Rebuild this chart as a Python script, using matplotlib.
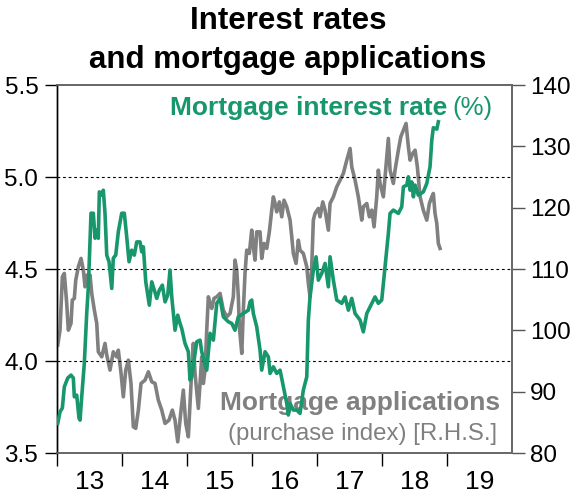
import matplotlib.pyplot as plt

GREEN = "#17976b"
GREY = "#808080"

# Mortgage interest rate, % (left axis)
rate_years = [
    2013.011, 2013.046, 2013.082, 2013.112, 2013.165, 2013.215, 2013.251, 2013.266, 2013.303, 2013.338,
    2013.354, 2013.380, 2013.420, 2013.457, 2013.482, 2013.523, 2013.558, 2013.585, 2013.611, 2013.635,
    2013.651, 2013.688, 2013.712, 2013.738, 2013.765, 2013.800, 2013.842, 2013.866, 2013.903, 2013.943,
    2013.995, 2014.035, 2014.072, 2014.108, 2014.149, 2014.189, 2014.226, 2014.277, 2014.303, 2014.328,
    2014.365, 2014.420, 2014.457, 2014.497, 2014.534, 2014.574, 2014.620, 2014.662, 2014.703, 2014.738,
    2014.765, 2014.815, 2014.857, 2014.892, 2014.918, 2014.969, 2015.020, 2015.046, 2015.072, 2015.149,
    2015.200, 2015.226, 2015.303, 2015.354, 2015.405, 2015.457, 2015.508, 2015.558, 2015.635, 2015.688,
    2015.738, 2015.789, 2015.866, 2015.943, 2015.969, 2015.995, 2016.020, 2016.072, 2016.123, 2016.149,
    2016.200, 2016.251, 2016.277, 2016.328, 2016.380, 2016.431, 2016.482, 2016.534, 2016.558, 2016.585,
    2016.635, 2016.688, 2016.738, 2016.789, 2016.842, 2016.866, 2016.892, 2016.943, 2016.985, 2017.020,
    2017.072, 2017.123, 2017.174, 2017.200, 2017.251, 2017.303, 2017.380, 2017.431, 2017.482, 2017.534,
    2017.585, 2017.662, 2017.712, 2017.765, 2017.842, 2017.892, 2017.943, 2017.995, 2018.046, 2018.097,
    2018.123, 2018.174, 2018.251, 2018.303, 2018.328, 2018.380, 2018.405, 2018.431, 2018.457, 2018.482,
    2018.508, 2018.558, 2018.635, 2018.688, 2018.738, 2018.765, 2018.789, 2018.842, 2018.866,
]
rate_values = [
    3.661, 3.724, 3.745, 3.860, 3.908, 3.924, 3.908, 3.806, 3.815, 3.690,
    3.679, 3.806, 3.989, 4.261, 4.404, 4.804, 4.804, 4.668, 4.712, 4.668,
    4.920, 4.902, 4.929, 4.804, 4.576, 4.540, 4.395, 4.560, 4.576, 4.703,
    4.804, 4.804, 4.676, 4.540, 4.603, 4.576, 4.648, 4.648, 4.594, 4.621,
    4.431, 4.304, 4.431, 4.386, 4.341, 4.386, 4.413, 4.322, 4.359, 4.495,
    4.349, 4.168, 4.250, 4.205, 4.178, 4.096, 4.051, 3.897, 3.915, 4.105,
    4.114, 4.051, 3.951, 4.151, 4.114, 4.314, 4.341, 4.241, 4.214, 4.205,
    4.168, 4.241, 4.259, 4.277, 4.322, 4.332, 4.259, 4.186, 4.060, 3.951,
    4.051, 4.023, 3.933, 3.969, 3.933, 3.951, 3.860, 3.770, 3.707, 3.770,
    3.734, 3.734, 3.716, 3.842, 3.915, 4.223, 4.349, 4.495, 4.567, 4.440,
    4.477, 4.531, 4.404, 4.567, 4.440, 4.332, 4.314, 4.349, 4.277, 4.341,
    4.259, 4.223, 4.159, 4.259, 4.314, 4.349, 4.314, 4.332, 4.513, 4.694,
    4.803, 4.821, 4.803, 4.839, 4.947, 4.957, 5.002, 4.929, 4.974, 4.893,
    4.957, 4.902, 4.920, 4.966, 5.056, 5.201, 5.269, 5.261, 5.301,
]

# Mortgage applications, purchase index (right axis)
apps_years = [
    2013.011, 2013.046, 2013.082, 2013.112, 2013.149, 2013.174, 2013.215, 2013.235, 2013.266, 2013.288,
    2013.328, 2013.369, 2013.405, 2013.431, 2013.457, 2013.482, 2013.508, 2013.534, 2013.574, 2013.611,
    2013.635, 2013.688, 2013.738, 2013.765, 2013.815, 2013.866, 2013.918, 2013.943, 2013.985, 2014.020,
    2014.057, 2014.097, 2014.138, 2014.174, 2014.211, 2014.251, 2014.292, 2014.354, 2014.405, 2014.457,
    2014.508, 2014.558, 2014.611, 2014.662, 2014.723, 2014.774, 2014.815, 2014.857, 2014.908, 2014.943,
    2014.980, 2015.020, 2015.072, 2015.097, 2015.123, 2015.174, 2015.200, 2015.226, 2015.251, 2015.277,
    2015.303, 2015.328, 2015.354, 2015.380, 2015.415, 2015.457, 2015.508, 2015.558, 2015.611, 2015.662,
    2015.712, 2015.738, 2015.765, 2015.789, 2015.805, 2015.842, 2015.866, 2015.892, 2015.918, 2015.958,
    2015.995, 2016.020, 2016.046, 2016.072, 2016.123, 2016.149, 2016.185, 2016.226, 2016.266, 2016.303,
    2016.328, 2016.354, 2016.380, 2016.420, 2016.457, 2016.492, 2016.534, 2016.585, 2016.611, 2016.635,
    2016.677, 2016.712, 2016.738, 2016.789, 2016.842, 2016.866, 2016.892, 2016.918, 2016.943, 2016.969,
    2017.020, 2017.046, 2017.088, 2017.123, 2017.174, 2017.200, 2017.251, 2017.303, 2017.354, 2017.405,
    2017.457, 2017.508, 2017.534, 2017.585, 2017.635, 2017.688, 2017.712, 2017.765, 2017.805, 2017.842,
    2017.877, 2017.918, 2017.943, 2017.969, 2018.020, 2018.072, 2018.097, 2018.123, 2018.174, 2018.200,
    2018.251, 2018.288, 2018.328, 2018.369, 2018.405, 2018.431, 2018.472, 2018.508, 2018.543, 2018.585,
    2018.635, 2018.688, 2018.728, 2018.765, 2018.789, 2018.815, 2018.842, 2018.866, 2018.892,
]
apps_values = [
    97.61, 100.05, 108.75, 109.30, 104.41, 100.05, 101.15, 104.95, 105.22, 108.21,
    110.38, 111.75, 109.84, 107.12, 109.02, 107.12, 109.02, 106.04, 103.32, 101.15,
    96.52, 95.70, 97.89, 95.98, 93.53, 96.52, 95.70, 96.79, 93.00, 89.18,
    93.53, 95.16, 91.36, 84.29, 84.03, 87.01, 91.36, 91.90, 93.26, 91.63,
    91.36, 88.64, 87.01, 84.84, 85.38, 87.01, 85.38, 81.84, 87.01, 90.27,
    84.84, 82.66, 93.53, 97.89, 92.99, 87.29, 91.36, 95.70, 91.36, 93.53,
    100.05, 105.49, 104.41, 103.59, 105.22, 105.49, 106.04, 103.32, 102.22, 102.78,
    105.49, 111.47, 109.84, 105.49, 100.59, 96.26, 103.32, 109.30, 113.10, 112.56,
    116.36, 113.64, 111.47, 116.08, 116.08, 111.75, 114.19, 113.38, 116.08, 119.62,
    121.79, 120.71, 119.34, 120.97, 118.53, 121.25, 120.16, 117.99, 115.27, 112.56,
    110.93, 114.73, 113.10, 112.56, 110.38, 107.67, 105.49, 110.38, 117.99, 119.08,
    119.90, 118.53, 120.97, 119.62, 116.36, 120.71, 121.79, 123.42, 124.51, 125.61,
    127.77, 129.68, 126.68, 124.51, 121.79, 117.99, 120.16, 120.71, 118.53, 119.62,
    116.90, 121.79, 126.14, 123.97, 121.79, 128.31, 131.31, 126.14, 123.97, 126.14,
    129.40, 131.57, 132.67, 133.76, 129.94, 127.77, 128.87, 129.40, 126.68, 121.79,
    119.62, 117.99, 120.71, 121.79, 122.34, 119.08, 117.45, 114.19, 113.38,
]

year_starts = [2013, 2014, 2015, 2016, 2017, 2018, 2019]
year_labels = ["13", "14", "15", "16", "17", "18", "19"]
rate_ticks = [3.5, 4.0, 4.5, 5.0, 5.5]
rate_grid = [4.0, 4.5, 5.0]
apps_ticks = [80, 90, 100, 110, 120, 130, 140]

plt.rcParams["font.family"] = ["Liberation Sans", "DejaVu Sans"]

fig = plt.figure(figsize=(5.76, 5.04), dpi=100)
ax = fig.add_axes([0.099, 0.101, 0.790, 0.730])
ax2 = ax.twinx()
# green series sits above the grey one
ax.set_zorder(ax2.get_zorder() + 1)
ax.patch.set_visible(False)

ax2.plot(apps_years, apps_values, color=GREY, lw=2.6, zorder=3)
ax.plot(rate_years, rate_values, color=GREEN, lw=2.6, zorder=3)

for level in rate_grid:
    ax.axhline(level, color="black", lw=0.8, ls=(0, (2.5, 2.5)), zorder=1)

ax.set_xlim(2013, 2020)
ax.set_ylim(3.5, 5.5)
ax2.set_ylim(80, 140)

ax.set_xticks(year_starts)
ax.set_xticklabels([])
ax.set_xticks([y + 0.5 for y in year_starts], minor=True)
ax.set_xticklabels(year_labels, minor=True)
ax.tick_params(axis="x", which="major", direction="out", length=9, width=1, color="black")
ax.tick_params(axis="x", which="minor", length=0, pad=12, labelsize=19)

ax.set_yticks(rate_ticks)
ax.set_yticklabels([f"{v:.1f}" for v in rate_ticks])
ax.tick_params(axis="y", direction="out", length=9, width=1, color="black", pad=4.5,
               labelsize=17.5)

ax2.set_yticks(apps_ticks)
ax2.tick_params(axis="y", direction="out", length=9, width=1, color="#555555", pad=4,
                labelsize=17.5)

for a in (ax, ax2):
    for side in ("top", "bottom", "right"):
        a.spines[side].set_color("#666666")
        a.spines[side].set_linewidth(1.2)
    a.spines["left"].set_color("black")
    a.spines["left"].set_linewidth(1)

fig.text(0.5, 1 - 29 / 504, "Interest rates", ha="center", va="baseline",
         fontsize=22.5, fontweight="bold")
fig.text(0.5, 1 - 68 / 504, "and mortgage applications", ha="center", va="baseline",
         fontsize=22.5, fontweight="bold")

# series labels
pct = ax.text(0.958, 0.918, "(%)", transform=ax.transAxes, ha="right", va="baseline",
              color=GREEN, fontsize=18.5, zorder=2)
fig.canvas.draw()
bb = pct.get_window_extent().transformed(ax.transAxes.inverted())
ax.text(bb.x0 - 0.012, 0.918, "Mortgage interest rate", transform=ax.transAxes,
        ha="right", va="baseline", color=GREEN, fontsize=19, fontweight="bold", zorder=2)

ax2.text(0.974, 0.117, "Mortgage applications", transform=ax2.transAxes,
         ha="right", va="baseline", color=GREY, fontsize=19, fontweight="bold", zorder=1)
ax2.text(0.968, 0.035, "(purchase index) [R.H.S.]", transform=ax2.transAxes,
         ha="right", va="baseline", color=GREY, fontsize=17.3, zorder=1)

fig.savefig("out.png", dpi=100)
